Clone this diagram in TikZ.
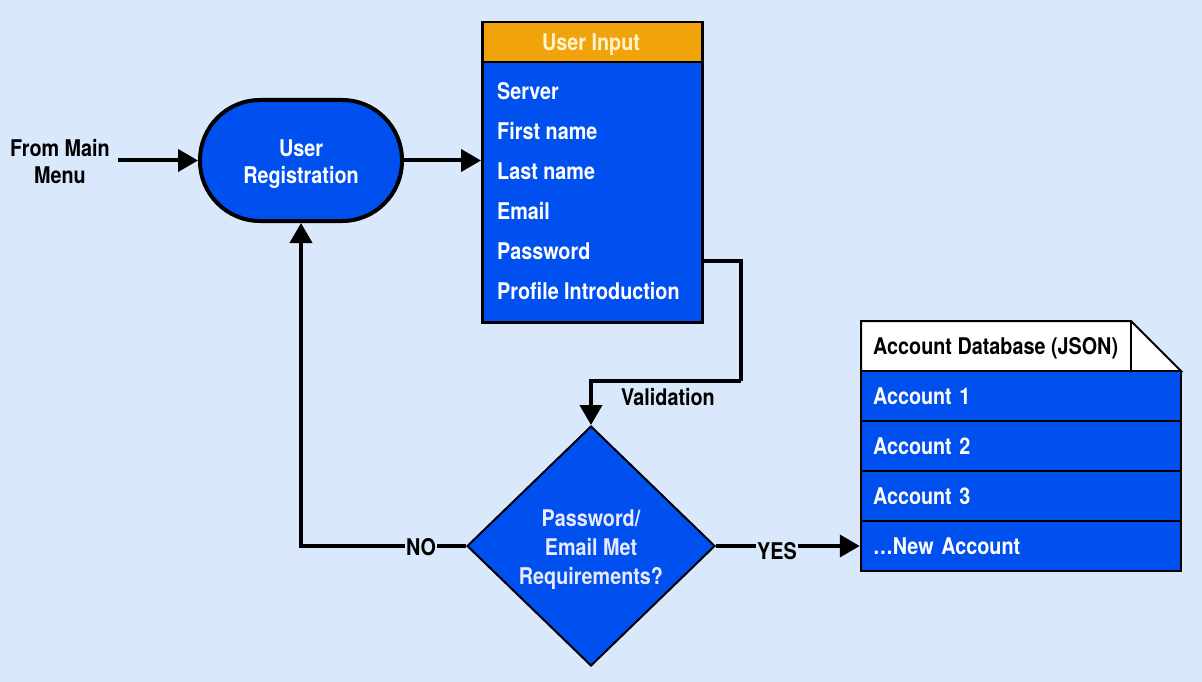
\documentclass[tikz,border=0pt]{standalone}
\usepackage{fontspec}
\setmainfont[FakeStretch=0.86]{TeX Gyre Heros}
\usetikzlibrary{arrows.meta,shapes.geometric,calc}
\definecolor{bgc}{HTML}{DAE8FC}
\definecolor{blu}{HTML}{0050EF}
\definecolor{org}{HTML}{F0A30A}
\definecolor{cream}{HTML}{FFF2CC}
\definecolor{lav}{HTML}{E8E8FF}
\tikzset{
  txt/.style={font=\fontsize{23}{27}\selectfont\bfseries},
  arr/.style={line width=4pt,-{Triangle[length=20pt,width=22pt]}},
  stadium/.style={draw=black,line width=4pt,fill=blu,rounded corners=60pt,minimum width=202pt,minimum height=121pt},
  boxb/.style={draw=black,line width=2.5pt,fill=blu},
  item/.style={anchor=west,text=white,txt,inner sep=0pt},
  dbrow/.style={draw=black,line width=2.5pt,fill=blu,minimum width=320pt,minimum height=50pt,text=white,txt,text width=296pt,align=left,inner xsep=12pt,text depth=0pt},
  lbl/.style={fill=bgc,inner sep=1pt,txt}
}
\begin{document}
\begin{tikzpicture}[x=1pt,y=-1pt]
\fill[bgc] (0,0) rectangle (1202,682);
\useasboundingbox (0,0) rectangle (1202,682);

% From main menu
\node[txt,align=center,inner xsep=8pt] (src) at (60,161.5) {From Main\\Menu};
\node[stadium] (reg) at (301,160.5) {};
\node[txt,text=white,align=center] (regt) at (301,164) {User\\Registration};

% User input table
\node[boxb,minimum width=220pt,minimum height=260pt,anchor=north west,inner sep=0pt] (uibody) at (481,61) {};
\node[draw=black,line width=2.5pt,fill=org,minimum width=220pt,minimum height=40pt,anchor=north west,inner sep=0pt] (uihead) at (481,21) {};
\node[text=cream,txt,inner sep=0pt] (uiht) at (591,45) {User Input};
\node[item] (i1) at (497,91) {Server};
\node[item] (i2) at (497,131) {First name};
\node[item] (i3) at (497,171) {Last name};
\node[item] (i4) at (497,211) {Email};
\node[item] (i5) at (497,251) {Password};
\node[item] (i6) at (497,291) {Profile Introduction};

% Decision
\node[diamond,draw=black,line width=2pt,fill=blu,minimum width=248pt,minimum height=240pt,inner sep=0pt] (dia) at (591,546) {};
\node[text=lav,align=center,font=\fontsize{23}{29}\selectfont\bfseries] (diat) at (591,550) {Password/\\Email Met\\Requirements?};

% Database
\fill[white,draw=black,line width=2pt] (861,321) -- (1131,321) -- (1181,371) -- (861,371) -- cycle;
\draw[black,line width=2pt] (1131,321) -- (1131,371);
\node[txt,anchor=west,inner sep=0pt] (dbh) at (873,348) {Account Database (JSON)};
\node[dbrow] (db1) at (1021,396) {Account 1};
\node[dbrow] (db2) at (1021,446) {Account 2};
\node[dbrow] (db3) at (1021,496) {Account 3};
\node[dbrow] (db4) at (1021,546) {\dots New Account};

% Connectors
\draw[arr] (reg.west -| src.east) -- (reg.west);
\draw[arr] (reg.east) -- (uibody.west |- reg.east);
\coordinate (vs) at (701,261);
\coordinate (vr) at (741,381);
\draw[line width=4pt] (vs) -| (vr);
\draw[arr] (vr) -| (dia.north);
\node[txt,inner sep=0pt] (vl) at (668,397) {Validation};
\draw[arr] (dia.west) -| (reg.south);
\node[lbl] (no) at (421,547) {NO};
\draw[arr] (dia.east) -- (db4.west);
\node[lbl] (yes) at (777,551) {YES};
\end{tikzpicture}
\end{document}
